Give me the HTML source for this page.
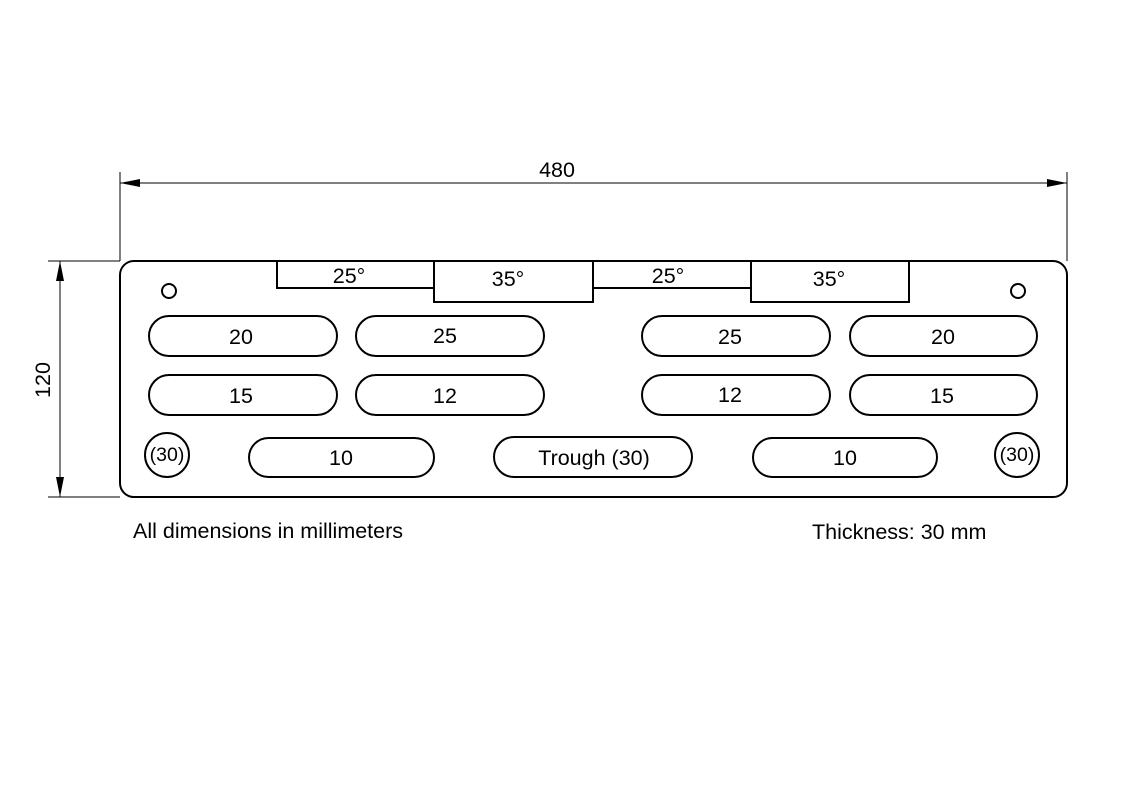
<!DOCTYPE html>
<html><head><style>body{margin:0;background:#fff}svg{display:block}text{font-family:"Liberation Sans",sans-serif;font-size:21.5px;fill:#000}</style></head>
<body>
<svg width="1124" height="795" viewBox="0 0 1124 795" xmlns="http://www.w3.org/2000/svg">
<g stroke="#000" fill="none">
<line x1="120" y1="172" x2="120" y2="261" stroke-width="1"/>
<line x1="1067" y1="172" x2="1067" y2="261" stroke-width="1"/>
<line x1="120" y1="183" x2="1067" y2="183" stroke-width="1"/>
<line x1="48" y1="261" x2="120" y2="261" stroke-width="1"/>
<line x1="48" y1="497" x2="120" y2="497" stroke-width="1"/>
<line x1="60" y1="261" x2="60" y2="497" stroke-width="1"/>
<rect x="120" y="261" width="947" height="236" rx="14" stroke-width="2"/>
<g stroke-width="2">
<rect x="277" y="261" width="157" height="27"/>
<rect x="434" y="261" width="159" height="41"/>
<rect x="593" y="261" width="158" height="27"/>
<rect x="751" y="261" width="158" height="41"/>
</g>
<circle cx="169" cy="291" r="7" stroke-width="2"/>
<circle cx="1018" cy="291" r="7" stroke-width="2"/>
<circle cx="167" cy="455" r="22" stroke-width="2"/>
<circle cx="1017" cy="455" r="22" stroke-width="2"/>
<g stroke-width="2">
<rect x="149" y="316" width="188" height="40" rx="20"/>
<rect x="356" y="316" width="188" height="40" rx="20"/>
<rect x="642" y="316" width="188" height="40" rx="20"/>
<rect x="850" y="316" width="187" height="40" rx="20"/>
<rect x="149" y="375" width="188" height="40" rx="20"/>
<rect x="356" y="375" width="188" height="40" rx="20"/>
<rect x="642" y="375" width="188" height="40" rx="20"/>
<rect x="850" y="375" width="187" height="40" rx="20"/>
<rect x="249" y="438" width="185" height="39" rx="19.5"/>
<rect x="494" y="437" width="198" height="40" rx="20"/>
<rect x="753" y="438" width="184" height="39" rx="19.5"/>
</g>
</g>
<g fill="#000">
<polygon points="120,183 140,179 140,187"/>
<polygon points="1067,183 1047,179 1047,187"/>
<polygon points="60,261 56,281 64,281"/>
<polygon points="60,497 56,477 64,477"/>
</g>
<g text-anchor="middle">
<text x="557" y="177">480</text>
<text transform="translate(50,380) rotate(-90)">120</text>
<text x="349" y="283">25°</text>
<text x="508" y="286">35°</text>
<text x="668" y="283">25°</text>
<text x="829" y="286">35°</text>
<text x="241" y="344">20</text>
<text x="445" y="343">25</text>
<text x="730" y="344">25</text>
<text x="943" y="344">20</text>
<text x="241" y="403">15</text>
<text x="445" y="403">12</text>
<text x="730" y="402">12</text>
<text x="942" y="403">15</text>
<text x="167" y="461" style="font-size:19.5px">(30)</text>
<text x="1017" y="461" style="font-size:19.5px">(30)</text>
<text x="341" y="465">10</text>
<text x="594" y="465">Trough (30)</text>
<text x="845" y="465">10</text>
</g>
<text x="133" y="538">All dimensions in millimeters</text>
<text x="812" y="539">Thickness: 30 mm</text>
</svg>
</body></html>
